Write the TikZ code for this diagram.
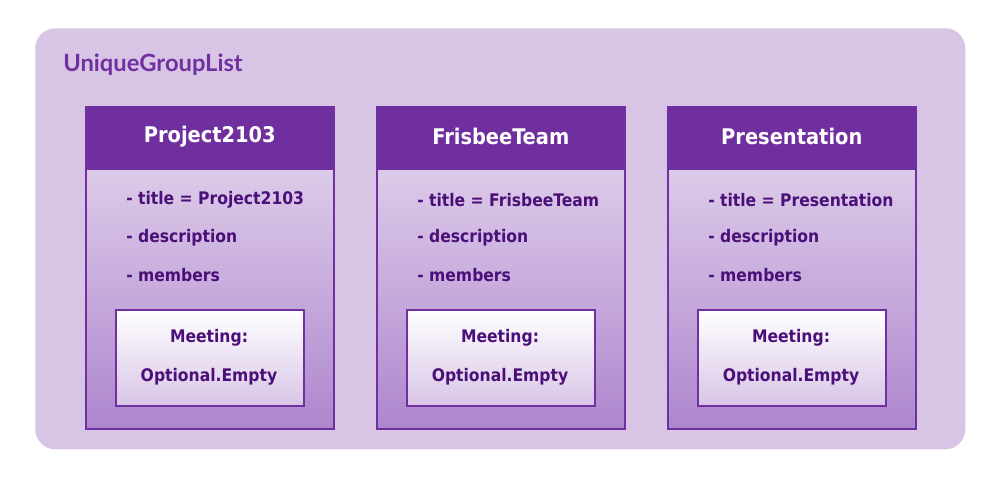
\documentclass[tikz,border=0pt]{standalone}
\usepackage{fontspec}
\setmainfont{DejaVu Sans Condensed}
\newfontfamily\titlefont{Lato}
\definecolor{bgpurple}{HTML}{D8C5E6}
\definecolor{hdpurple}{HTML}{6F2F9F}
\definecolor{edgepurple}{HTML}{7030A0}
\definecolor{txtpurple}{HTML}{4A0F78}
\definecolor{bodytop}{HTML}{DCCBE9}
\definecolor{bodybot}{HTML}{AE86CE}
\begin{document}
\begin{tikzpicture}[x=0.75pt,y=-0.75pt,
  outerbox/.style={fill=bgpurple,draw=none,rounded corners=15pt},
  hdbox/.style={fill=hdpurple,draw=edgepurple,line width=1.2pt},
  bodybox/.style={top color=bodytop,bottom color=bodybot,draw=edgepurple,line width=1.2pt},
  innerbox/.style={top color=white,bottom color=bgpurple,draw=edgepurple,line width=1.2pt},
  hdtext/.style={text=white,font=\bfseries\fontsize{16.2}{19}\selectfont,anchor=center},
  attr/.style={text=txtpurple,font=\bfseries\fontsize{13}{15}\selectfont,anchor=west,inner sep=0},
  intext/.style={text=txtpurple,font=\bfseries\fontsize{13}{15}\selectfont,anchor=center}]
\useasboundingbox (0,0) rectangle (1000,500);
\fill[white] (0,0) rectangle (1000,500);
\node[outerbox,minimum width=930*0.75pt,minimum height=421*0.75pt,anchor=north west,inner sep=0] (outer) at (35,28) {};
\node[anchor=west,inner sep=0,text=edgepurple,font=\titlefont\bfseries\fontsize{17.8}{20}\selectfont] (title) at (63,65) {UniqueGroupList};
\foreach \i/\x/\name in {a/85/Project2103,b/376/FrisbeeTeam,c/667/Presentation}{
  \node[bodybox,anchor=north west,minimum width=248*0.75pt,minimum height=260*0.75pt,inner sep=0] (body\i) at (\x,168) {};
  \node[hdbox,anchor=north west,minimum width=248*0.75pt,minimum height=62*0.75pt,inner sep=0] (hd\i) at (\x,106) {};
  \node[hdtext] (hdt\i) at ([yshift=1.5*0.75pt]hd\i.center) {\name};
  \node[attr] (t\i) at (\x+41,200) {- title = \name};
  \node[attr] (d\i) at (\x+41,238) {- description};
  \node[attr] (m\i) at (\x+41,275) {- members};
  \node[innerbox,anchor=north west,minimum width=188*0.75pt,minimum height=96*0.75pt,inner sep=0] (in\i) at (\x+30,309) {};
  \node[intext] (mt\i) at (\x+124,338) {Meeting:};
  \node[intext] (op\i) at (\x+124,377) {Optional.Empty};
}
\end{tikzpicture}
\end{document}
